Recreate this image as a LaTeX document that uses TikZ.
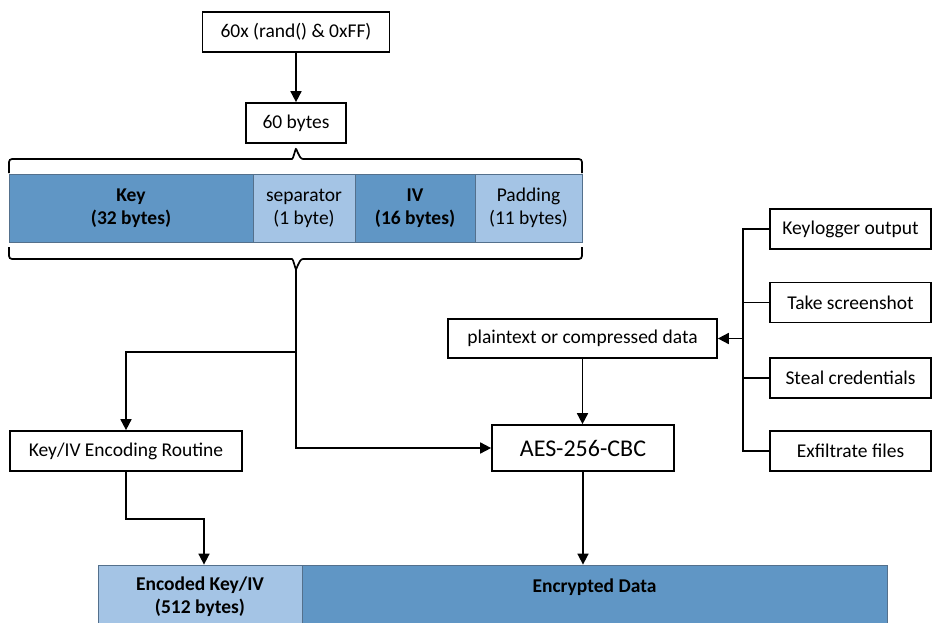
\documentclass[tikz,border=0pt]{standalone}
\usepackage{fontspec}
\setmainfont{Carlito}
\usetikzlibrary{arrows.meta,calc}
\definecolor{darkblu}{RGB}{96,150,197}
\definecolor{lightblu}{RGB}{164,196,229}
\definecolor{segline}{RGB}{84,112,140}
\begin{document}
\begin{tikzpicture}[x=1pt,y=-1pt,
  txt/.style={font=\fontsize{19.5}{23}\selectfont},
  box/.style={draw=black, line width=1.7pt, fill=white, inner sep=0pt, txt},
  seg/.style={draw=segline, line width=0.8pt, inner sep=0pt, align=center, txt, minimum height=68},
  dseg/.style={seg, fill=darkblu, font=\fontsize{19.5}{23}\selectfont\bfseries},
  lseg/.style={seg, fill=lightblu},
  conn/.style={draw=black, line width=1.7pt},
  arr/.style={conn, -{Triangle[length=11pt,width=11pt]}},
  bracepath/.style={draw=black, line width=1.7pt, rounded corners=3pt}
]
\useasboundingbox (0,0) rectangle (934,623);

% top boxes
\node[box, minimum width=187, minimum height=40] (rand) at (296,32) {60x (rand() \& 0xFF)};
\node[box, minimum width=100, minimum height=40] (b60) at (296,123) {60 bytes};

% byte bar
\node[dseg, minimum width=244] (key) at (131,208) {Key\\(32 bytes)};
\node[lseg, minimum width=102] (sep) at (304,208) {separator\\(1 byte)};
\node[dseg, minimum width=120] (iv) at (415,208) {IV\\(16 bytes)};
\node[lseg, minimum width=107] (pad) at (528.5,208) {Padding\\(11 bytes)};

% braces
\coordinate (tt) at (296,150);
\coordinate (bt) at (296,268);
\draw[bracepath] (9,173) -- (9,159) -- (289,159) [sharp corners] to[out=0,in=90] (tt) to[out=90,in=180] (303,159) [rounded corners=3pt] -- (582,159) -- (582,173);
\draw[bracepath] (9,247) -- (9,259) -- (289,259) [sharp corners] to[out=0,in=-90] (bt) to[out=-90,in=180] (303,259) [rounded corners=3pt] -- (582,259) -- (582,247);

% middle boxes
\node[box, minimum width=232, minimum height=40] (kiv) at (126,451) {Key/IV Encoding Routine};
\node[box, minimum width=269, minimum height=39] (plain) at (582.5,338.5) {plaintext or compressed data};
\node[box, minimum width=182, minimum height=46, font=\fontsize{24}{28}\selectfont] (aes) at (583,448) {AES-256-CBC};

% right boxes
\node[box, minimum width=161, minimum height=40] (kl) at (850.5,229) {Keylogger output};
\node[box, minimum width=161, minimum height=40] (ts) at (850.5,302.5) {Take screenshot};
\node[box, minimum width=161, minimum height=40] (sc) at (850.5,378) {Steal credentials};
\node[box, minimum width=161, minimum height=40] (ex) at (850.5,451) {Exfiltrate files};

% bottom bar
\node[lseg, minimum width=204, minimum height=64, font=\fontsize{19.5}{23}\selectfont\bfseries] (enc) at (200,597) {Encoded Key/IV\\(512 bytes)};
\node[dseg, minimum width=585, minimum height=64] (encd) at (594.5,597) {Encrypted Data\\\mbox{}};

% connectors
\draw[arr] (rand.south) -- (b60.north);
\coordinate (j1) at (296,352);
\draw[arr] (bt) -- (j1) -| (kiv.north);
\draw[arr] (j1) |- (aes.west);
\draw[arr] (kiv.south) -- ++(0,47) -| ($(enc.north)+(4,0)$);
\draw[arr] (plain.south) -- (plain.south |- aes.north);
\draw[arr] (aes.south) -- (aes.south |- encd.north);

\coordinate (bus) at (743,0);
\draw[conn] (kl.west) -- (kl.west -| bus) -- (ex.west -| bus) -- (ex.west);
\draw[conn] (ts.west) -- (ts.west -| bus);
\draw[conn] (sc.west) -- (sc.west -| bus);
\draw[arr] (plain.east -| bus) -- (plain.east);
\end{tikzpicture}
\end{document}
